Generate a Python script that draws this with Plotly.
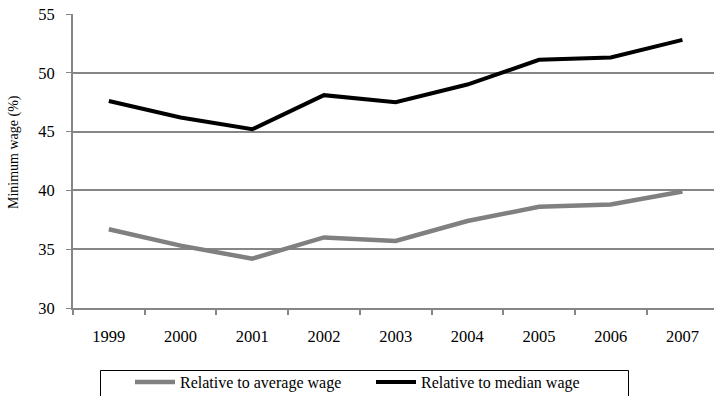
import plotly.graph_objects as go

years = ["1999", "2000", "2001", "2002", "2003", "2004", "2005", "2006", "2007"]
avg_wage = [36.7, 35.3, 34.2, 36.0, 35.7, 37.4, 38.6, 38.8, 39.9]
median_wage = [47.6, 46.2, 45.2, 48.1, 47.5, 49.0, 51.1, 51.3, 52.8]
y_ticks = [30, 35, 40, 45, 50, 55]

x = list(range(len(years)))
FONT = "Liberation Serif, Times New Roman, serif"

W, H = 714, 396
ML, MR, MT, MB = 73, 0, 14, 88
PW, PH = W - ML - MR, H - MT - MB


def px_x(p):
    return (p - ML) / PW


def px_y(p):
    return (H - MB - p) / PH


fig = go.Figure()
fig.add_trace(go.Scatter(x=x, y=avg_wage, mode="lines", name="Relative to average wage",
                         line=dict(color="#808080", width=4.5)))
fig.add_trace(go.Scatter(x=x, y=median_wage, mode="lines", name="Relative to median wage",
                         line=dict(color="#000000", width=4)))

fig.add_shape(type="rect", xref="paper", yref="paper",
              x0=px_x(100.5), x1=px_x(628.5), y0=px_y(400), y1=px_y(370.5),
              line=dict(color="#000000", width=1), fillcolor="rgba(0,0,0,0)")

fig.add_annotation(text="Minimum wage (%)", textangle=-90, xref="paper", yref="paper",
                   x=px_x(14), y=px_y(152), xanchor="center", yanchor="middle",
                   showarrow=False, font=dict(size=14, family=FONT, color="#000000"))

fig.update_layout(
    width=W, height=H,
    margin=dict(l=ML, r=MR, t=MT, b=MB, autoexpand=False),
    paper_bgcolor="white", plot_bgcolor="white",
    font=dict(family=FONT, color="#000000", size=16),
    legend=dict(orientation="h", x=px_x(130), xanchor="left", y=px_y(365), yanchor="top",
                borderwidth=0, bgcolor="rgba(0,0,0,0)", entrywidth=186, entrywidthmode="pixels",
                font=dict(size=16, family=FONT), itemwidth=40),
)
fig.update_xaxes(
    range=[-0.5, 8.44], tickvals=x, ticktext=years, showgrid=False,
    showline=True, linecolor="#868686", linewidth=2, ticks="",
    tickfont=dict(size=16.5, family=FONT), ticklabelstandoff=12,
    minor=dict(tickvals=[i - 0.5 for i in range(len(years) + 1)], ticks="outside",
               ticklen=5, tickcolor="#868686", tickwidth=1.5, showgrid=False),
    zeroline=False,
)
fig.update_yaxes(
    range=[30, 55], tickvals=y_ticks, showgrid=True, gridcolor="#868686", gridwidth=1.5,
    showline=True, linecolor="#868686", linewidth=2, ticks="outside", ticklen=5,
    tickcolor="#868686", tickfont=dict(size=16.5, family=FONT), zeroline=False,
    ticklabelstandoff=8,
)

fig.write_html("out.html")
